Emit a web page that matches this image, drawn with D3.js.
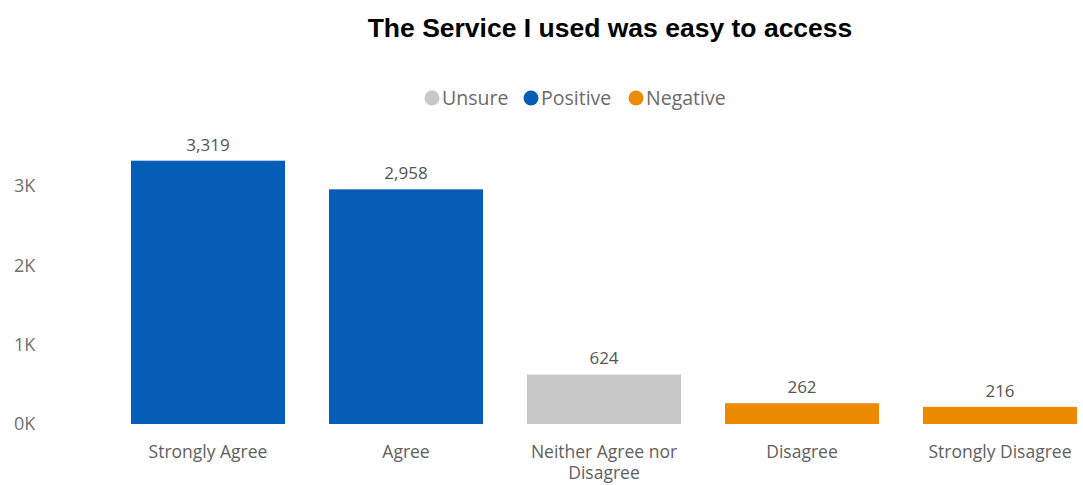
<!DOCTYPE html>
<html>
<head>
<meta charset="utf-8">
<script src="https://cdn.jsdelivr.net/npm/d3@7"></script>
<style>
  html, body { margin: 0; padding: 0; background: #fff; }
  svg { display: block; }
</style>
</head>
<body>
<svg id="chart" width="1083" height="485"></svg>
<script>
// Survey responses
const categories = ["Strongly Agree", "Agree", "Neither Agree nor Disagree", "Disagree", "Strongly Disagree"];
const values = [3319, 2958, 624, 262, 216];
const groups = ["Positive", "Positive", "Unsure", "Negative", "Negative"];
const legendItems = ["Unsure", "Positive", "Negative"];
const yTicks = [0, 1000, 2000, 3000];

const colors = { Unsure: "#c8c8c8", Positive: "#065db6", Negative: "#ed8b00" };
const font = "'Open Sans', 'Noto Sans', sans-serif";

const svg = d3.select("#chart");

// Title
svg.append("text")
  .attr("x", 610).attr("y", 37)
  .attr("text-anchor", "middle")
  .attr("font-family", "'Liberation Sans', Arial, sans-serif")
  .attr("font-weight", "bold")
  .attr("font-size", 26.5)
  .attr("fill", "#000")
  .text("The Service I used was easy to access");

// Legend
const legendX = [432, 531, 636];
const legend = svg.append("g");
legendItems.forEach((name, i) => {
  const g = legend.append("g").attr("transform", `translate(${legendX[i]},98)`);
  g.append("circle").attr("r", 7.5).attr("fill", colors[name]);
  g.append("text")
    .attr("x", 10).attr("y", 7)
    .attr("font-family", font).attr("font-size", 19.5)
    .attr("fill", "#6b6b6b")
    .text(name);
});

// Scales
const x = d3.scaleBand().domain(categories).range([109, 1099]).paddingInner(0.222).paddingOuter(0.111);
const y = d3.scaleLinear().domain([0, 3000]).range([424, 186]);

// Y axis
const yAxis = svg.append("g")
  .attr("transform", "translate(40,0)")
  .call(d3.axisLeft(y).tickValues(yTicks).tickSize(0).tickPadding(0)
    .tickFormat(d => (d / 1000) + "K"));
yAxis.select(".domain").remove();
yAxis.selectAll("text")
  .attr("font-family", font).attr("font-size", 18)
  .attr("fill", "#707070")
  .attr("text-anchor", "start")
  .attr("x", -26);

// Bars
svg.append("g").selectAll("rect")
  .data(values)
  .join("rect")
  .attr("x", (d, i) => x(categories[i]))
  .attr("width", x.bandwidth())
  .attr("y", d => y(d))
  .attr("height", d => y(0) - y(d))
  .attr("fill", (d, i) => colors[groups[i]]);

// Value labels
svg.append("g").selectAll("text")
  .data(values)
  .join("text")
  .attr("x", (d, i) => x(categories[i]) + x.bandwidth() / 2)
  .attr("y", d => y(d) - 10)
  .attr("text-anchor", "middle")
  .attr("font-family", font).attr("font-size", 17)
  .attr("fill", "#555")
  .text(d => d3.format(",")(d));

// X axis, with the long category wrapped onto two lines
const xAxis = svg.append("g")
  .attr("transform", "translate(0,424)")
  .call(d3.axisBottom(x).tickSize(0).tickPadding(0));
xAxis.select(".domain").remove();
xAxis.selectAll("text")
  .attr("font-family", font).attr("font-size", 17.5)
  .attr("fill", "#606060")
  .attr("y", 0)
  .attr("dy", null)
  .each(function(d) {
    const t = d3.select(this);
    t.text(null);
    const lines = d === "Neither Agree nor Disagree" ? ["Neither Agree nor", "Disagree"] : [d];
    lines.forEach((ln, k) => {
      t.append("tspan").attr("x", 0).attr("y", 34 + k * 21).text(ln);
    });
  });
</script>
</body>
</html>
